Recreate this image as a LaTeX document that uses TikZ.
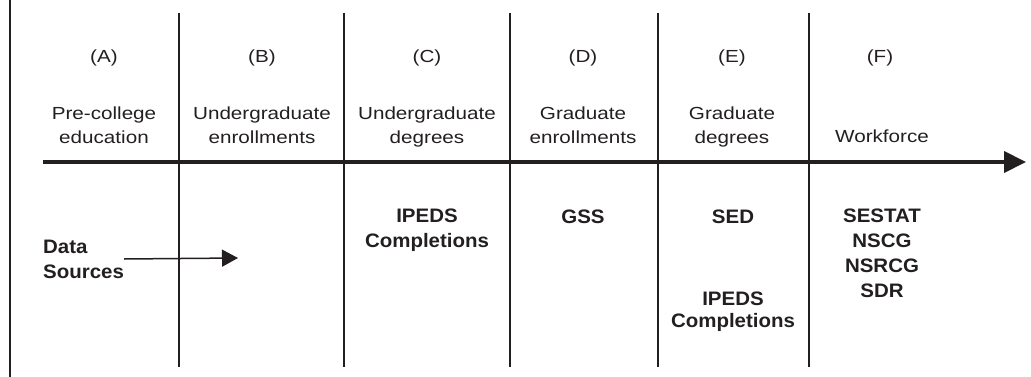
\documentclass[tikz,border=0pt]{standalone}
\usepackage{fontspec}
\setmainfont{Liberation Sans}
\newfontfamily\stagefont[FakeStretch=1.18]{Liberation Sans}
\newfontfamily\sourcefont[FakeStretch=1.05]{Liberation Sans}
\usepackage{xcolor}
\usepackage{tikz}
\usetikzlibrary{arrows.meta,positioning}

\definecolor{inkgray}{HTML}{231F20}

\tikzset{
    letter/.style={inner sep=0pt, anchor=base, text=inkgray, font=\stagefont\fontsize{17.5}{24}\selectfont},
    stage/.style={inner sep=0pt, align=center, text=inkgray, font=\stagefont\fontsize{17.5}{24}\selectfont},
    source/.style={inner sep=0pt, align=center, text=inkgray, font=\sourcefont\bfseries\fontsize{19.5}{25}\selectfont},
    divider/.style={draw=inkgray, line width=2.4pt}
}

\begin{document}
\begin{tikzpicture}[x=1pt,y=-1pt]
        \useasboundingbox (0,0) rectangle (1031,377);
        \begin{scope}
            % Left border
            \draw[divider, line width=2pt] (10,0) -- (10,377);

            % Column dividers
            \foreach \x in {179,344,510,658,809}
                \draw[divider] (\x,13) -- (\x,367);

            % Timeline arrow
            \coordinate (tlstart) at (43,162);
            \coordinate (tlend) at (1026,162);
            \draw[draw=inkgray, line width=4pt, -{Triangle[length=22pt, width=21pt]}] (tlstart) -- (tlend);

            % Stage letters
            \node[letter] (letA) at (104,63) {(A)};
            \node[letter] (letB) at (262,63) {(B)};
            \node[letter] (letC) at (427,63) {(C)};
            \node[letter] (letD) at (583,63) {(D)};
            \node[letter] (letE) at (732,63) {(E)};
            \node[letter] (letF) at (880,63) {(F)};

            % Stage names
            \node[stage] (precollege) at (104,125) {Pre-college\\education};
            \node[stage] (ugenroll) at (262,125) {Undergraduate\\enrollments};
            \node[stage] (ugdegree) at (427,127) {Undergraduate\\degrees};
            \node[stage] (grenroll) at (583,125) {Graduate\\enrollments};
            \node[stage] (grdegree) at (732,127) {Graduate\\degrees};
            \node[stage, anchor=base] (workforce) at (882,143) {Workforce};

            % Data sources
            \node[source, align=left, anchor=west] (datasrc) at (43,259) {Data\\Sources};
            \coordinate (dsend) at (238,258);
            \draw[draw=inkgray, line width=1.5pt, -{Triangle[length=16pt, width=17pt]}] (datasrc.east) -- (dsend);

            \node[source] (ipedsC) at (427,230) {IPEDS\\Completions};
            \node[source, anchor=base] (gss) at (583,223) {GSS};
            \node[source, anchor=base] (sed) at (733,223) {SED};
            \node[source, font=\sourcefont\bfseries\fontsize{19.5}{22}\selectfont] (ipedsE) at (733,312) {IPEDS\\Completions};
            \node[source] (sestat) at (882,253) {SESTAT\\NSCG\\NSRCG\\SDR};
        \end{scope}
    \end{tikzpicture}
\end{document}
